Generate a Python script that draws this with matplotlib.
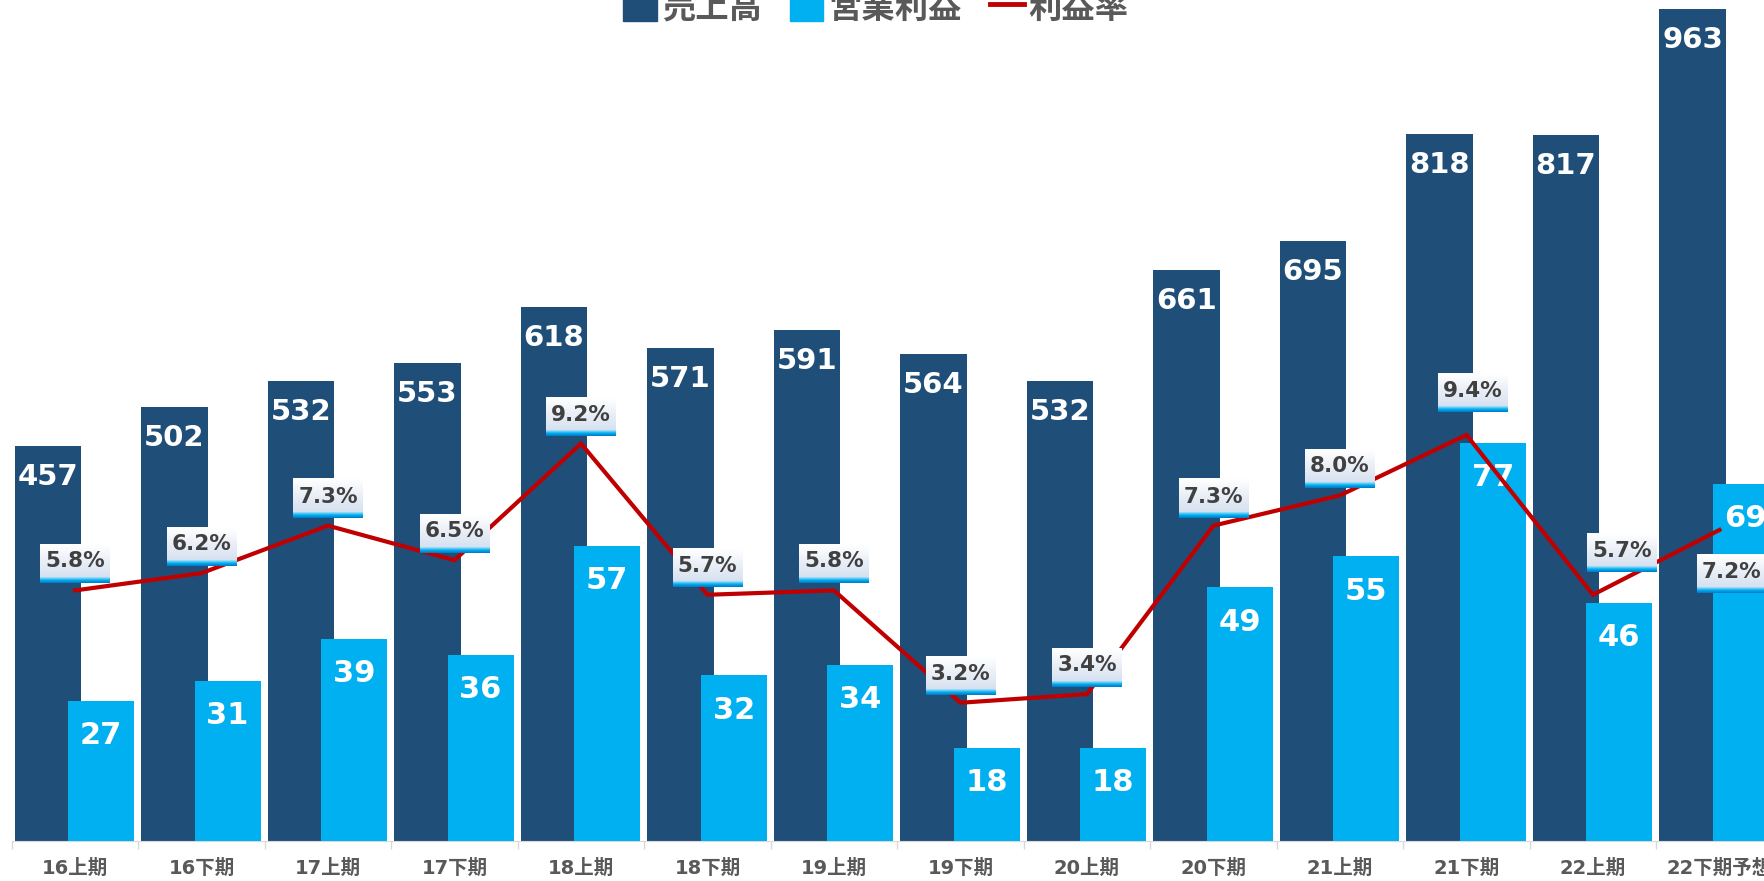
import numpy as np
import matplotlib
matplotlib.use('Agg')
import matplotlib.pyplot as plt
from matplotlib.patches import Patch
from matplotlib.lines import Line2D

# data
categories = ['16上期', '16下期', '17上期', '17下期', '18上期', '18下期', '19上期',
              '19下期', '20上期', '20下期', '21上期', '21下期', '22上期', '22下期予想']
sales = [457, 502, 532, 553, 618, 571, 591, 564, 532, 661, 695, 818, 817, 963]
op_profit = [27, 31, 39, 36, 57, 32, 34, 18, 18, 49, 55, 77, 46, 69]
margin = [5.8, 6.2, 7.3, 6.5, 9.2, 5.7, 5.8, 3.2, 3.4, 7.3, 8.0, 9.4, 5.7, 7.2]

DARK = '#1F4E79'
LIGHT = '#00B0F0'
RED = '#C00000'
GRAY = '#595959'

W, H = 1765, 881
fig = plt.figure(figsize=(W / 100, H / 100), dpi=100)

# axes box in pixels: left at 11.7, baseline at 841, spacing 126.5 px per group
left_px, base_px, step = 11.7, 841, 126.5
ax = fig.add_axes([left_px / W, (H - base_px) / H, 1 - left_px / W, base_px / H])
ax2 = ax.twinx()
ax3 = ax.twinx()

x = np.arange(len(categories))
xmax = -0.5 + (W - left_px) / step

ax.bar(x - 0.213, sales, width=0.522, color=DARK, zorder=2)
ax2.bar(x + 0.207, op_profit, width=0.52, color=LIGHT, zorder=2)

ax.set_xlim(-0.5, xmax)
ax.set_ylim(0, base_px / ((base_px - 9) / 963))
ax2.set_ylim(0, base_px / 5.175)
ax3.set_ylim(0, base_px / 43.2)

for a in (ax, ax2, ax3):
    for s in a.spines.values():
        s.set_visible(False)
    a.set_yticks([])
ax.spines['bottom'].set_visible(True)
ax.spines['bottom'].set_color('#D9D9D9')

bounds = np.arange(-0.5, len(categories) + 0.5)
ax.set_xticks(bounds, [''] * len(bounds))
ax.tick_params(axis='x', which='major', length=5.5, color='#D9D9D9', width=1)
ax.set_xticks(x, categories, minor=True)
ax.tick_params(axis='x', which='minor', length=0, pad=13, labelsize=14, labelcolor=GRAY)
for t in ax.get_xticklabels(minor=True):
    t.set_fontfamily(['DejaVu Sans', 'Noto Sans CJK JP'])
    t.set_fontweight('bold')

# value labels inside the bars
for xi, v in zip(x, sales):
    ax.annotate(str(v), (xi - 0.213, v), xytext=(0, -22.3), textcoords='offset points',
                ha='center', va='center', color='white', fontsize=21, fontweight='bold',
                zorder=5)
for xi, v in zip(x, op_profit):
    ax2.annotate(str(v), (xi + 0.207, v), xytext=(0, -25), textcoords='offset points',
                 ha='center', va='center', color='white', fontsize=22, fontweight='bold',
                 zorder=5)

# margin line
ax3.plot(x, margin, color=RED, lw=3, zorder=2, solid_joinstyle='miter')

# gradient label boxes (white -> pale blue, cyan strip at bottom)
n = 40
grad = np.zeros((n, 1, 3))
top = np.array([1.0, 1.0, 1.0])
bot = np.array([0.84, 0.88, 0.94])
body = int(n * 0.85)
for i in range(body):
    t = i / (body - 1)
    grad[i, 0] = top * (1 - t) + bot * t
strip = [np.array([0.55, 0.85, 0.97]), np.array([0.0, 0.69, 0.94]), np.array([0.0, 0.50, 0.80])]
for j, i in enumerate(range(body, n)):
    t = j / max(1, n - body - 1)
    if t < 0.5:
        c = strip[0] * (1 - 2 * t) + strip[1] * 2 * t
    else:
        c = strip[1] * (2 - 2 * t) + strip[2] * (2 * t - 1)
    grad[i, 0] = c

# pixel offsets of box centre from the point (default: 27 px above)
label_shift = {11: (6, 42), 12: (29, 42), 13: (12, -44)}
box_w, box_h = 69, 39
fig.canvas.draw()
to_disp = ax3.transData
to_data = ax3.transData.inverted()
for i, m in enumerate(margin):
    dx, dy = label_shift.get(i, (0, 27))
    px, py = to_disp.transform((x[i], m))
    cx, cy = px + dx, py + dy
    (x0, y0) = to_data.transform((cx - box_w / 2, cy - box_h / 2))
    (x1, y1) = to_data.transform((cx + box_w / 2, cy + box_h / 2))
    ax3.imshow(grad, extent=[x0, x1, y0, y1], aspect='auto', zorder=3,
               interpolation='bilinear')
    tx, ty = to_data.transform((cx, cy + 2))
    ax3.text(tx, ty, f'{m:.1f}%', ha='center', va='center', color='#404040',
             fontsize=15.5, fontweight='bold', zorder=4)

ax.set_xlim(-0.5, xmax)
ax3.set_ylim(0, base_px / 43.2)

handles = [Patch(color=DARK), Patch(color=LIGHT), Line2D([], [], color=RED, lw=3.5)]
fig.legend(handles, ['売上高', '営業利益', '利益率'], loc='center',
           bbox_to_anchor=(876 / W, 1 - 8 / H), ncol=3, frameon=False,
           prop=dict(family='Noto Sans CJK JP', weight='bold', size=24),
           labelcolor=GRAY, handlelength=1.0, handleheight=1.0,
           handletextpad=0.15, columnspacing=0.85, borderpad=0)

fig.savefig('out.png', dpi=100)
